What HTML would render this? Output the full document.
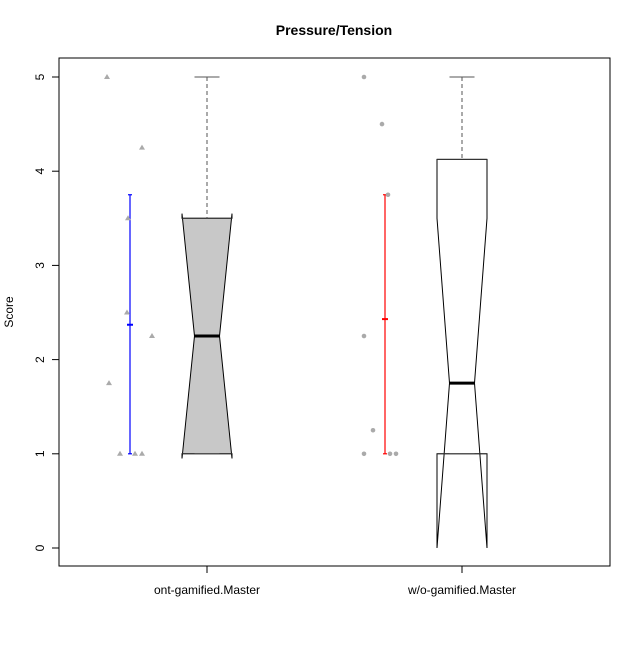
<!DOCTYPE html>
<html><head><meta charset="utf-8"><style>
body{margin:0;background:#fff}
svg text{font-family:"Liberation Sans",Arial,sans-serif}
</style></head><body>
<svg id="chart" width="640" height="640" viewBox="0 0 640 640" xmlns="http://www.w3.org/2000/svg">
<rect width="640" height="640" fill="#fff"/>
<text x="334" y="35" text-anchor="middle" font-size="14" font-weight="bold">Pressure/Tension</text>
<rect x="59" y="58" width="551" height="508" fill="none" stroke="#000" stroke-width="1"/>
<text transform="translate(13,312) rotate(-90)" text-anchor="middle" font-size="12">Score</text>
<g id="axes"></g>
<g id="marks"></g>
</svg>
<script>
const categories = ["ont-gamified.Master", "w/o-gamified.Master"];
const yTicks = [0, 1, 2, 3, 4, 5];
const boxQ1 = [1, 1];
const boxMedian = [2.25, 1.75];
const boxQ3 = [3.5, 4.125];
const whiskerHi = [5, 5];
const whiskerLo = [1, 1];
const notchLo = [0.95, 0];
const notchHi = [3.55, 3.5];
const boxFill = ["#c8c8c8", "none"];
const pointsY1 = [5, 4.25, 3.5, 2.5, 2.25, 1.75, 1, 1, 1];
const pointsX1 = [-100, -65, -79, -80, -55, -98, -87, -72, -65];
const pointsY2 = [5, 4.5, 3.75, 2.25, 1.25, 1, 1, 1];
const pointsX2 = [-98, -80, -74, -98, -89, -98, -72, -66];
const meanVals = [2.37, 2.43];
const errLo = [1, 1];
const errHi = [3.75, 3.75];
const errColor = ["#0000ff", "#ff0000"];

const NS = "http://www.w3.org/2000/svg";
const y = v => 548 - v * 94.2;
const x = i => 207 + i * 255;
function mk(tag, attrs, parent){const e=document.createElementNS(NS,tag);for(const k in attrs)e.setAttribute(k,attrs[k]);parent.appendChild(e);return e;}
const axes = document.getElementById('axes');
const marks = document.getElementById('marks');

yTicks.forEach(t=>{
  const l = mk('line',{x1:52,x2:59,y1:y(t),y2:y(t),stroke:'#000'},axes);
  
  
  const tx = mk('text',{transform:`translate(44,${y(t)}) rotate(-90)`,'text-anchor':'middle','font-size':'12'},axes);
  tx.textContent = t;
  
  
});
categories.forEach((c,i)=>{
  const l = mk('line',{x1:x(i),x2:x(i),y1:566,y2:573,stroke:'#000'},axes);
  
  
  const tx = mk('text',{x:x(i),y:594,'text-anchor':'middle','font-size':'12'},axes);
  tx.textContent = c;
  
  
});

categories.forEach((c,i)=>{
  const cx = x(i), w = 25, m = 12.5;
  const g = mk('g',{},marks);
  
  
  const pts = [[cx-w,y(boxQ1[i])],[cx-w,y(notchLo[i])],[cx-m,y(boxMedian[i])],[cx-w,y(notchHi[i])],[cx-w,y(boxQ3[i])],
    [cx+w,y(boxQ3[i])],[cx+w,y(notchHi[i])],[cx+m,y(boxMedian[i])],[cx+w,y(notchLo[i])],[cx+w,y(boxQ1[i])]];
  mk('polygon',{points:pts.map(p=>p.join(',')).join(' '),fill:boxFill[i]==='none'?'#fff':boxFill[i],stroke:'#000','stroke-width':1},g);
  mk('line',{x1:cx-w,x2:cx+w,y1:y(boxQ1[i]),y2:y(boxQ1[i]),stroke:'#333'},g);
  mk('line',{x1:cx-w,x2:cx+w,y1:y(boxQ3[i]),y2:y(boxQ3[i]),stroke:'#333'},g);
  mk('line',{x1:cx-m,x2:cx+m,y1:y(boxMedian[i]),y2:y(boxMedian[i]),stroke:'#000','stroke-width':3},g);
  mk('line',{x1:cx,x2:cx,y1:y(whiskerHi[i]),y2:y(boxQ3[i]),stroke:'#555','stroke-dasharray':'4,3'},g);
  mk('line',{x1:cx-m,x2:cx+m,y1:y(whiskerHi[i]),y2:y(whiskerHi[i]),stroke:'#555'},g);
  mk('line',{x1:cx,x2:cx,y1:y(whiskerLo[i]),y2:y(boxQ1[i]),stroke:'#555','stroke-dasharray':'4,3'},g);
  mk('line',{x1:cx-m,x2:cx+m,y1:y(whiskerLo[i]),y2:y(whiskerLo[i]),stroke:'#555'},g);
  // error bar
  const ex = cx - (i===0?77:77);
  const eb = mk('g',{stroke:errColor[i],'stroke-width':1.2},marks);
  
  
  mk('line',{x1:ex,x2:ex,y1:y(errLo[i]),y2:y(errHi[i])},eb);
  mk('line',{x1:ex-2,x2:ex+2,y1:y(errLo[i]),y2:y(errLo[i])},eb);
  mk('line',{x1:ex-2,x2:ex+2,y1:y(errHi[i]),y2:y(errHi[i])},eb);
  mk('line',{x1:ex-3,x2:ex+3,y1:y(meanVals[i]),y2:y(meanVals[i]),'stroke-width':2},eb);
});
pointsY1.forEach((v,k)=>{
  const px = x(0)+pointsX1[k], py = y(v);
  const p = mk('polygon',{points:`${px},${py-3} ${px-3},${py+2} ${px+3},${py+2}`,fill:'#aaa'},marks);
  
  
});
pointsY2.forEach((v,k)=>{
  const p = mk('circle',{cx:x(1)+pointsX2[k],cy:y(v),r:2.3,fill:'#aaa'},marks);
  
  
});
</script>
</body></html>
